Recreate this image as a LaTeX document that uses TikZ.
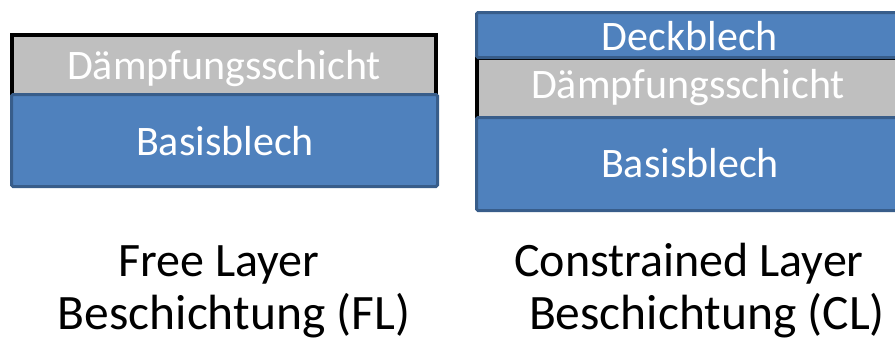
\documentclass[tikz,border=0pt]{standalone}
\usepackage{fontspec}
\setmainfont{Carlito}
\definecolor{layerblue}{HTML}{4F81BD}
\definecolor{layerbluedark}{HTML}{385D8A}
\definecolor{layergray}{HTML}{BFBFBF}
\begin{document}
\begin{tikzpicture}[x=1pt,y=-1pt,
  plate/.style={rectangle,inner sep=0pt,outer sep=0pt,fill=layerblue,draw=layerbluedark,line width=3pt,rounded corners=1.5pt},
  damp/.style={rectangle,inner sep=0pt,outer sep=0pt,fill=layergray,draw=black,line width=4pt},
  boxtext/.style={anchor=base,inner sep=0pt,text=white,font=\fontsize{42}{50}\selectfont},
  caption/.style={anchor=base,inner sep=0pt,text=black,font=\fontsize{48}{56}\selectfont},
  captionb/.style={anchor=base,inner sep=0pt,text=black,font=\fontsize{49.5}{58}\selectfont}]
\useasboundingbox (0,0) rectangle (895,341);
\clip (0,0) rectangle (895,341);
% Free layer
\node[damp,minimum width=424pt,minimum height=60pt] (fldamp) at (224,65) {};
\node[plate,minimum width=426pt,minimum height=92pt] (flbase) at (224.5,140.5) {};
\node[boxtext] (fldampt) at (224,79) {Dämpfungsschicht};
\node[boxtext] (flbaset) at (225,155) {Basisblech};
% Constrained layer
\node[damp,minimum width=425pt,minimum height=60pt] (cldamp) at (689,88) {};
\node[plate,minimum width=425pt,minimum height=45pt] (cldeck) at (689,35) {};
\node[plate,minimum width=425pt,minimum height=93pt] (clbase) at (689,164) {};
\node[boxtext] (cldeckt) at (690,50) {Deckblech};
\node[boxtext] (cldampt) at (688,98) {Dämpfungsschicht};
\node[boxtext] (clbaset) at (690,177) {Basisblech};
% captions
\node[caption] (fl1) at (219,276) {Free Layer};
\node[captionb] (fl2) at (234,329) {Beschichtung (FL)};
\node[caption] (cl1) at (689,276) {Constrained Layer};
\node[captionb] (cl2) at (707,329) {Beschichtung (CL)};
\end{tikzpicture}
\end{document}
